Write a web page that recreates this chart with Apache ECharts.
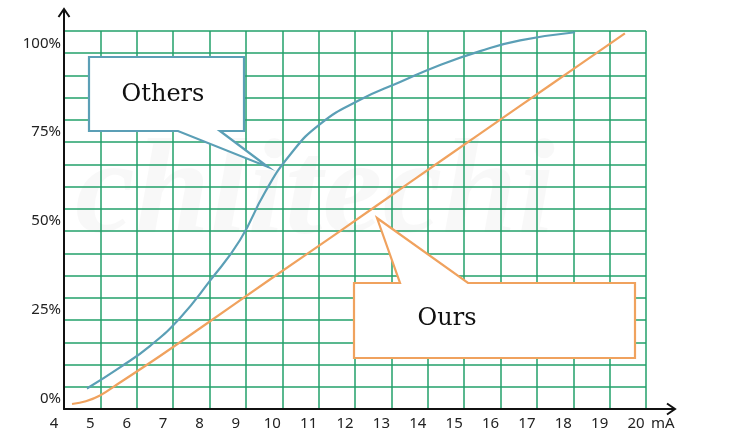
<!DOCTYPE html>
<html>
<head>
<meta charset="utf-8">
<script src="https://cdn.jsdelivr.net/npm/echarts@6/dist/echarts.min.js"></script>
<style>
html,body{margin:0;padding:0;background:#fff;}
#c{width:732px;height:443px;}
</style>
</head>
<body>
<div id="c"></div>
<script>
// ---- data ----
var xTicks = [4,5,6,7,8,9,10,11,12,13,14,15,16,17,18,19,20];
var yTickLabels = [0,25,50,75,100];
var oursX = [4.22, 4.60, 4.99, 5.54, 6.64, 7.74, 9.66, 11.59, 13.51, 15.44, 17.36, 19.42];
var oursY = [1.41, 2.19, 3.79, 7.45, 14.9, 22.7, 36.4, 50.0, 63.7, 77.4, 91.0, 105.6];
var othersX = [4.63, 5.54, 6.36, 7.19, 8.01, 8.84, 9.53, 10.21, 11.04, 12.14, 13.24, 14.34, 15.44, 16.54, 18.05];
var othersY = [5.76, 11.7, 17.7, 25.6, 36.0, 47.5, 61.0, 71.4, 80.1, 86.9, 91.9, 96.7, 100.6, 103.6, 105.9];
var seriesNames = ['Others', 'Ours'];
var unitLabel = 'mA';

function pairs(xs, ys){ return xs.map(function(x,i){ return [x, ys[i]]; }); }

var chart = echarts.init(document.getElementById('c'), null, {renderer:'canvas'});
var GREEN = '#22a06a';
var BLUE = '#5b9fb6';
var ORANGE = '#f0a25e';
var FONT = '"Noto Sans", "Open Sans", sans-serif';

chart.setOption({
  animation:false,
  backgroundColor:'#fff',
  grid:{left:64, right:86, top:31, bottom:34},
  xAxis:{
    type:'value', min:xTicks[0], max:xTicks[xTicks.length-1], interval:1,
    axisLine:{show:true, onZero:false, lineStyle:{color:'#111', width:2}},
    axisTick:{show:false},
    splitLine:{show:true, lineStyle:{color:GREEN, width:1.5}},
    axisLabel:{fontSize:15, margin:7, padding:[0,20,0,0], color:'#222', fontFamily:FONT}
  },
  yAxis:{
    type:'value', min:0, max:106.25, interval:6.25,
    axisLine:{show:true, onZero:false, lineStyle:{color:'#111', width:2}},
    axisTick:{show:false},
    splitLine:{show:true, lineStyle:{color:GREEN, width:1.5}},
    axisLabel:{fontSize:15, margin:3, verticalAlign:'bottom', lineHeight:20, color:'#222', fontFamily:FONT,
      formatter:function(v){ return yTickLabels.indexOf(v) >= 0 ? v + '%' : ''; }}
  },
  series:[
    {name:seriesNames[0], type:'line', smooth:0.5, showSymbol:false, symbol:'none',
     data:pairs(othersX, othersY), lineStyle:{color:BLUE, width:2.2}, z:3},
    {name:seriesNames[1], type:'line', smooth:0.4, showSymbol:false, symbol:'none',
     data:pairs(oursX, oursY), lineStyle:{color:ORANGE, width:2.2}, z:3}
  ],
  graphic:[
    {type:'text', left:75, top:130, z:-10, silent:true,
     style:{text:'chlitechi', font:'italic bold 135px "Liberation Serif", serif', fill:'rgba(0,0,0,0.028)'}},
    // axis extensions and arrowheads
    {type:'line', z:10, shape:{x1:64, y1:31, x2:64, y2:9}, style:{stroke:'#111', lineWidth:2}},
    {type:'polyline', z:10, shape:{points:[[58.5,17],[64,9],[69.5,17]]}, style:{stroke:'#111', lineWidth:2, fill:null}},
    {type:'line', z:10, shape:{x1:646, y1:409, x2:675, y2:409}, style:{stroke:'#111', lineWidth:2}},
    {type:'polyline', z:10, shape:{points:[[667,403.5],[675,409],[667,414.5]]}, style:{stroke:'#111', lineWidth:2, fill:null}},
    {type:'text', z:10, left:651, top:416, style:{text:unitLabel, font:'15px "Noto Sans", sans-serif', fill:'#222'}},
    // callouts
    {type:'polygon', z:20, shape:{points:[[89,57],[244,57],[244,131],[220,131],[268,167],[178,131],[89,131]]},
     style:{fill:'#fff', stroke:BLUE, lineWidth:2.2}},
    {type:'text', z:21, x:163, y:95, style:{text:seriesNames[0], font:'24px "DejaVu Serif", serif', fill:'#111', textAlign:'center', textVerticalAlign:'middle'}},
    {type:'polygon', z:20, shape:{points:[[354,283],[400,283],[377,218],[468,283],[635,283],[635,358],[354,358]]},
     style:{fill:'#fff', stroke:ORANGE, lineWidth:2.2}},
    {type:'text', z:21, x:447, y:319, style:{text:seriesNames[1], font:'24px "DejaVu Serif", serif', fill:'#111', textAlign:'center', textVerticalAlign:'middle'}}
  ]
});
</script>
</body>
</html>
